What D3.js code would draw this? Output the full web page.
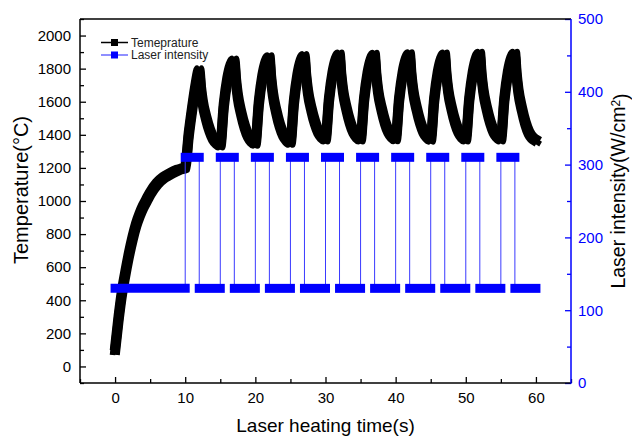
<!DOCTYPE html>
<html><head><meta charset="utf-8">
<script src="https://cdn.jsdelivr.net/npm/d3@7"></script>
<style>
body{margin:0;background:#fff}
svg{display:block}
text{font-family:"Liberation Sans",Arial,Helvetica,sans-serif}
</style>
</head><body>
<svg id="c" width="632" height="436"></svg>
<script>
// ---- data ----
const tempTime = [
  0,0.5,1,1.5,2,2.5,3,3.5,4,4.5,5,6,7,8,9,10,
  10.5,11,11.5,12,12.25,12.5,13,13.5,14,14.5,15,
  15.5,16,16.5,17,17.25,17.5,18,18.5,19,19.5,20,
  20.5,21,21.5,22,22.25,22.5,23,23.5,24,24.5,25,
  25.5,26,26.5,27,27.25,27.5,28,28.5,29,29.5,30,
  30.5,31,31.5,32,32.25,32.5,33,33.5,34,34.5,35,
  35.5,36,36.5,37,37.25,37.5,38,38.5,39,39.5,40,
  40.5,41,41.5,42,42.25,42.5,43,43.5,44,44.5,45,
  45.5,46,46.5,47,47.25,47.5,48,48.5,49,49.5,50,
  50.5,51,51.5,52,52.25,52.5,53,53.5,54,54.5,55,
  55.5,56,56.5,57,57.25,57.5,58,58.5,59,59.5,60
];
const tempValue = [
  100,290,450,570,680,775,855,915,965,1005,1045,1105,1143,1168,1188,1202,
  1400,1560,1700,1790,1677,1595,1499,1427,1377,1350,1336,
  1577,1731,1818,1849,1723,1633,1527,1447,1391,1361,1346,
  1592,1749,1838,1869,1740,1647,1538,1455,1399,1368,1352,
  1598,1755,1845,1876,1750,1659,1553,1473,1417,1387,1372,
  1613,1767,1854,1885,1757,1664,1557,1475,1418,1387,1372,
  1612,1766,1853,1884,1756,1663,1556,1474,1418,1388,1373,
  1614,1768,1855,1886,1758,1665,1558,1476,1419,1387,1371,
  1613,1767,1854,1885,1757,1664,1557,1475,1418,1387,1372,
  1615,1771,1859,1890,1760,1667,1558,1476,1419,1388,1372,
  1615,1771,1859,1890,1759,1665,1555,1471,1413,1382,1366
];
const laserTime  = [0,10,12,15,17,20,22,25,27,30,32,35,37,40,42,45,47,50,52,55,57,60];
const laserLevel = [130,310,130,310,130,310,130,310,130,310,130,310,130,310,130,310,130,310,130,310,130];
const xTicks = [0,10,20,30,40,50,60];
const xMinor = [-5,5,15,25,35,45,55,65];
const yLeftTicks = [0,200,400,600,800,1000,1200,1400,1600,1800,2000];
const yLeftMinor = [-100,100,300,500,700,900,1100,1300,1500,1700,1900,2100];
const yRightTicks = [0,100,200,300,400,500];
const yRightMinor = [50,150,250,350,450];
const seriesNames = ["Temeprature","Laser intensity"];
const xTitle = "Laser heating time(s)";
const yLeftTitle = "Temperature(\u00B0C)";
const yRightTitle = "Laser intensity(W/cm";

// ---- layout ----
const L = 80, R = 571, T = 19, B = 383;
const BLUE = "#0000ff";
const svg = d3.select("#c");
const x = d3.scaleLinear().domain([-5,65]).range([L,R]);
const yL = d3.scaleLinear().domain([-100,2100]).range([B,T]);
const yR = d3.scaleLinear().domain([0,500]).range([B,T]);

// ---- temperature curve (thick, square-marker look) ----
const tempData = tempTime.map((t,i)=>({t, v: tempValue[i]}));
const tLine = d3.line().x(d=>x(d.t)).y(d=>yL(d.v)).curve(d3.curveMonotoneX);
const tg = svg.append("g");
const off = 2.3;
[[-off,-off],[off,-off],[-off,off],[off,off],[0,0]].forEach(([dx,dy])=>{
  tg.append("path").attr("d", tLine(tempData))
    .attr("transform",`translate(${dx},${dy})`)
    .attr("fill","none").attr("stroke","#000").attr("stroke-width",5.5)
    .attr("stroke-linejoin","round").attr("stroke-linecap","square");
});

// ---- laser step line ----
const stepPts = [];
laserLevel.forEach((lv,i)=>{ stepPts.push({t:laserTime[i],v:lv}); stepPts.push({t:laserTime[i+1],v:lv}); });
const lLine = d3.line().x(d=>x(d.t)).y(d=>yR(d.v));
svg.append("path").attr("d", lLine(stepPts)).attr("fill","none")
  .attr("stroke","#3a3aff").attr("stroke-width",1);
svg.append("g").selectAll("line").data(laserLevel).join("line")
  .attr("x1",(d,i)=>x(laserTime[i])).attr("x2",(d,i)=>x(laserTime[i+1]))
  .attr("y1",d=>yR(d)).attr("y2",d=>yR(d))
  .attr("stroke",BLUE).attr("stroke-width",9).attr("stroke-linecap","square");

// ---- axes ----
const fs = 15;
function styleAxis(g, color){
  g.select(".domain").remove();
  g.selectAll(".tick line").attr("stroke",color).attr("stroke-width",1.3);
  g.selectAll(".tick text").attr("fill",color).style("font-size",fs+"px");
}
const gx = svg.append("g").attr("transform",`translate(0,${B})`)
  .call(d3.axisBottom(x).tickValues(xTicks).tickSize(-6).tickPadding(9).tickFormat(d3.format("d")));
styleAxis(gx,"#000");
gx.selectAll(".tick text").attr("dy","0.71em");
const gxm = svg.append("g").attr("transform",`translate(0,${B})`)
  .call(d3.axisBottom(x).tickValues(xMinor).tickSize(-4).tickFormat(""));
styleAxis(gxm,"#000");

const gl = svg.append("g").attr("transform",`translate(${L},0)`)
  .call(d3.axisLeft(yL).tickValues(yLeftTicks).tickSize(-6).tickPadding(9).tickFormat(d3.format("d")));
styleAxis(gl,"#000");
const glm = svg.append("g").attr("transform",`translate(${L},0)`)
  .call(d3.axisLeft(yL).tickValues(yLeftMinor).tickSize(-4).tickFormat(""));
styleAxis(glm,"#000");

const gr = svg.append("g").attr("transform",`translate(${R},0)`)
  .call(d3.axisRight(yR).tickValues(yRightTicks).tickSize(-6).tickPadding(7).tickFormat(d3.format("d")));
styleAxis(gr,BLUE);
const grm = svg.append("g").attr("transform",`translate(${R},0)`)
  .call(d3.axisRight(yR).tickValues(yRightMinor).tickSize(-4).tickFormat(""));
styleAxis(grm,BLUE);

// frame
svg.append("line").attr("x1",L).attr("x2",R).attr("y1",T).attr("y2",T).attr("stroke","#000").attr("stroke-width",1.5);
svg.append("line").attr("x1",L).attr("x2",R).attr("y1",B).attr("y2",B).attr("stroke","#000").attr("stroke-width",1.5);
svg.append("line").attr("x1",L).attr("x2",L).attr("y1",T).attr("y2",B).attr("stroke","#000").attr("stroke-width",1.5);
svg.append("line").attr("x1",R).attr("x2",R).attr("y1",T).attr("y2",B+0.75).attr("stroke",BLUE).attr("stroke-width",1.5);

// titles
svg.append("text").attr("x",(L+R)/2).attr("y",432).attr("text-anchor","middle")
  .style("font-size","19px").attr("fill","#000").text(xTitle);
svg.append("text").attr("transform","translate(28,190) rotate(-90)").attr("text-anchor","middle")
  .style("font-size","20px").attr("fill","#000").text(yLeftTitle);
const rt = svg.append("text").attr("transform","translate(625,191) rotate(-90)").attr("text-anchor","middle")
  .style("font-size","19.5px").attr("fill","#000");
rt.append("tspan").text(yRightTitle);
rt.append("tspan").attr("dy","-0.45em").style("font-size","12px").text("2");
rt.append("tspan").attr("dy","0.45em").text(")");

// legend
const lg = svg.append("g");
const rows = [{y:42.5, line:"#000", mark:"#000"},{y:55, line:"#6a6aff", mark:BLUE}];
rows.forEach((r,i)=>{
  lg.append("line").attr("x1",101).attr("x2",128).attr("y1",r.y).attr("y2",r.y)
    .attr("stroke",r.line).attr("stroke-width",1.5);
  lg.append("rect").attr("x",111).attr("y",r.y-3.5).attr("width",7).attr("height",7).attr("fill",r.mark);
  lg.append("text").attr("x",131).attr("y",r.y+4).style("font-size","12px").attr("fill","#222").text(seriesNames[i]);
});
</script>
</body></html>
